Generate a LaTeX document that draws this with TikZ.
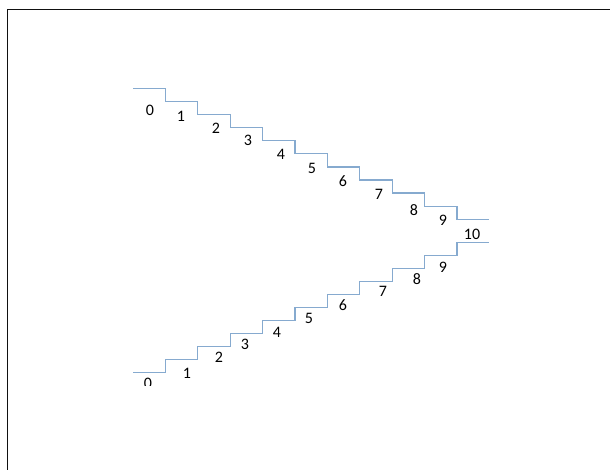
\documentclass[tikz,border=0pt]{standalone}
\usepackage{fontspec}
\setmainfont{Carlito}
\usetikzlibrary{positioning}
\definecolor{cStair}{HTML}{86AACF}
\definecolor{cFrame}{HTML}{111111}
\begin{document}
\begin{tikzpicture}[x=1pt,y=-1pt,
    stair/.style={draw=cStair,line width=1.3pt},
    num/.style={inner sep=0pt,font=\fontsize{16}{19}\selectfont}]
  \useasboundingbox (0,0) rectangle (610,470);
  \draw[cFrame,line width=1.2pt] (7.5,470) -- (7.5,9.3) -- (610,9.3);
  % going down
  \draw[stair] (133,88.3) foreach \k in {1,...,10} {-- ++(32.4,0) -- ++(0,13.1)} -- ++(32.4,0);
  % going up
  \draw[stair] (133,372.3) foreach \k in {1,...,10} {-- ++(32.4,0) -- ++(0,-13)} -- ++(32.4,0);
  \node[num] (d0) at (150,110) {0};
  \node[num] (d1) at (181,116) {1};
  \node[num] (d2) at (216,128) {2};
  \node[num] (d3) at (248,140) {3};
  \node[num] (d4) at (281,154) {4};
  \node[num] (d5) at (312,168) {5};
  \node[num] (d6) at (343,181) {6};
  \node[num] (d7) at (379,194) {7};
  \node[num] (d8) at (414,210) {8};
  \node[num] (d9) at (443,220) {9};
  \node[num] (d10) at (472,234) {10};
  \begin{scope}
    \clip (120,370) rectangle (180,385.5);
    \node[num] (u0) at (148,383.5) {0};
  \end{scope}
  \node[num] (u1) at (187,373) {1};
  \node[num] (u2) at (219,357) {2};
  \node[num] (u3) at (245,344) {3};
  \node[num] (u4) at (277,332) {4};
  \node[num] (u5) at (309,318) {5};
  \node[num] (u6) at (343,305) {6};
  \node[num] (u7) at (383,291) {7};
  \node[num] (u8) at (417,279) {8};
  \node[num] (u9) at (443,267) {9};
\end{tikzpicture}
\end{document}
